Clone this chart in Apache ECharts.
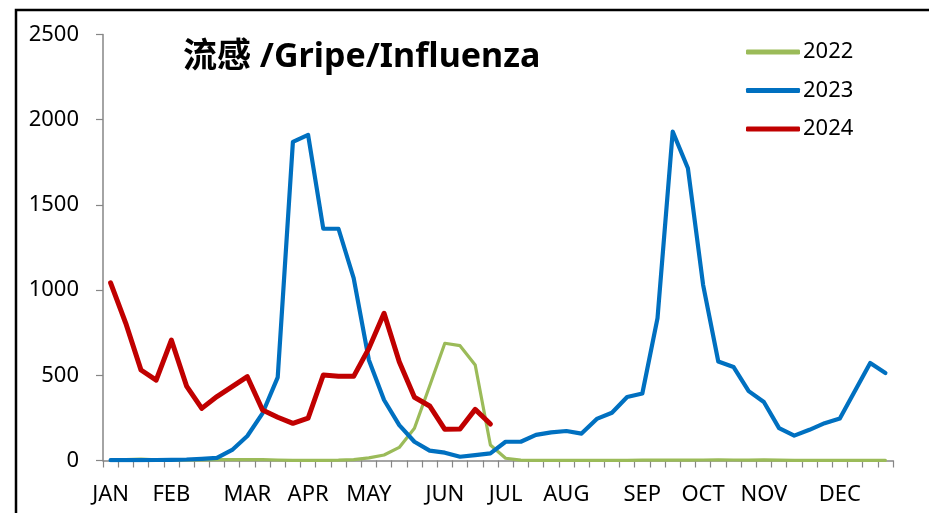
<!DOCTYPE html>
<html>
<head>
<meta charset="utf-8">
<script src="https://cdn.jsdelivr.net/npm/echarts@6/dist/echarts.min.js"></script>
<style>
html,body{margin:0;padding:0;background:#fff;}
#c{width:929px;height:513px;}
</style>
</head>
<body>
<div id="c"></div>
<script>
var weeks = [];
for (var w = 1; w <= 52; w++) weeks.push('W' + w);

var monthLabels = ['JAN','','','','FEB','','','','','MAR','','','','APR','','','','MAY','','','','','JUN','','','','JUL','','','','AUG','','','','','SEP','','','','OCT','','','','NOV','','','','','DEC','','',''];

var yTicks = [0, 500, 1000, 1500, 2000, 2500];

var seriesNames = ['2022', '2023', '2024'];

var flu2022 = [2,5,8,4,3,3,4,5,6,5,5,3,1,1,1,2,5,15,32,77,189,437,688,674,560,91,13,2,1,1,1,1,1,1,1,2,2,2,2,3,4,3,2,4,2,1,1,1,1,1,1,1];

var flu2023 = [2,2,2,3,4,6,10,15,62,144,277,488,1870,1911,1360,1360,1070,590,355,208,110,58,46,22,32,42,110,110,150,165,173,158,244,280,373,393,836,1930,1715,1031,581,549,407,343,190,146,180,219,246,410,572,513];

var flu2024 = [1043,805,531,472,707,437,306,375,433,492,296,254,218,248,502,494,494,658,864,580,371,320,183,185,300,214];

var colors = ['#9BBB59', '#0070C0', '#C00000'];
var widths = [3.2, 4.2, 5];

var chart = echarts.init(document.getElementById('c'), null, {renderer: 'canvas'});
var FONT = 'Noto Sans, Noto Sans CJK SC, sans-serif';
var datas = [flu2022, flu2023, flu2024];

chart.setOption({
  animation: false,
  backgroundColor: '#fff',
  title: {
    text: '流感 /Gripe/Influenza',
    left: 178,
    top: 35,
    textStyle: {fontFamily: FONT, fontSize: 34, fontWeight: 'bold', color: '#000'}
  },
  legend: {
    orient: 'vertical',
    left: 741,
    top: 36,
    itemWidth: 54,
    itemHeight: 5,
    itemGap: 16.5,
    icon: 'roundRect',
    data: seriesNames,
    textStyle: {fontFamily: FONT, fontSize: 22, color: '#000', lineHeight: 22, padding: [0,0,0,-2]}
  },
  grid: {left: 103, right: 36, top: 34.5, bottom: 52.5, containLabel: false},
  xAxis: {
    type: 'category',
    data: weeks,
    boundaryGap: true,
    axisLine: {lineStyle: {color: '#868686', width: 1.5}},
    axisTick: {show: true, interval: 0, length: 7, lineStyle: {color: '#868686', width: 1.2}},
    axisLabel: {
      interval: 0,
      margin: 23,
      fontFamily: FONT,
      fontSize: 22,
      color: '#000',
      formatter: function (v, i) { return monthLabels[i]; }
    }
  },
  yAxis: {
    type: 'value',
    min: yTicks[0],
    max: yTicks[yTicks.length - 1],
    interval: yTicks[1] - yTicks[0],
    splitLine: {show: false},
    axisLine: {show: true, lineStyle: {color: '#868686', width: 1.5}},
    axisTick: {show: true, length: 7, lineStyle: {color: '#868686', width: 1.2}},
    axisLabel: {margin: 24, fontFamily: FONT, fontSize: 22, color: '#000', formatter: function (v) { return String(v); }}
  },
  graphic: [{
    type: 'rect',
    shape: {x: 16, y: 10, width: 1200, height: 800},
    style: {fill: 'none', stroke: '#000', lineWidth: 2.5},
    silent: true,
    z: 100
  }],
  series: seriesNames.map(function (n, k) {
    return {
      name: n,
      type: 'line',
      data: datas[k],
      symbol: 'none',
      showSymbol: false,
      z: 2 + k,
      lineStyle: {color: colors[k], width: widths[k], join: 'round', cap: 'round'},
      itemStyle: {color: colors[k]}
    };
  })
});
</script>
</body>
</html>
